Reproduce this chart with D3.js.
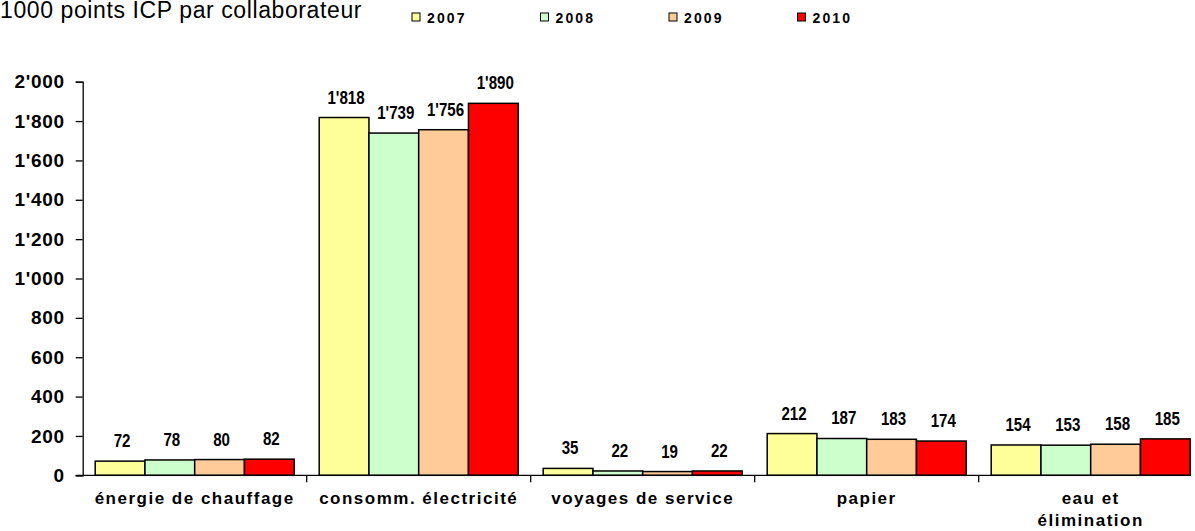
<!DOCTYPE html>
<meta charset="utf-8">
<html>
<head>
<style>
  body { margin: 0; background: #fff; }
  text { font-family: "Liberation Sans", Arial, sans-serif; }
  .narrow { font-family: "Liberation Sans Narrow", "Arial Narrow", "Liberation Sans", sans-serif; font-weight: bold; }
</style>
</head>
<body>
<div id="chart"></div>
<script src="https://d3js.org/d3.v7.min.js"></script>
<script>

  // data
  var categories = ["énergie de chauffage", "consomm. électricité", "voyages de service", "papier", "eau et\nélimination"];
  var years = ["2007", "2008", "2009", "2010"];
  var values2007 = [72, 1818, 35, 212, 154];
  var values2008 = [78, 1739, 22, 187, 153];
  var values2009 = [80, 1756, 19, 183, 158];
  var values2010 = [82, 1890, 22, 174, 185];
  var yTicks = [0, 200, 400, 600, 800, 1000, 1200, 1400, 1600, 1800, 2000];
  var colors = ["#FFFF99", "#CCFFCC", "#FFCC99", "#FF0000"];

  var series = [values2007, values2008, values2009, values2010];

  var width = 1195, height = 531;
  var plotLeft = 82.7, plotRight = 1202.7, plotTop = 81.7, plotBottom = 475.3;

  var svg = d3.select("#chart")
    .append("svg")
      .attr("width", width)
      .attr("height", height);

  var fmt = d3.formatLocale({decimal: ".", thousands: "'", grouping: [3], currency: ["", ""]}).format(",d");

  // scales
  var x0 = d3.scaleBand()
    .domain(categories)
    .range([plotLeft, plotRight]);

  var x1 = d3.scaleBand()
    .domain(years)
    .range([12.5, x0.bandwidth() - 12.5]);

  var y = d3.scaleLinear()
    .domain([0, 2000])
    .range([plotBottom, plotTop]);

  // title
  svg.append("text")
    .attr("x", 0)
    .attr("y", 17.5)
    .style("font-size", "23px")
    .style("letter-spacing", "0.6px")
    .text("1000 points ICP par collaborateur");

  // legend
  var legend = svg.append("g").selectAll("g")
    .data(years)
    .enter().append("g")
      .attr("transform", function(d, i) { return "translate(" + (412 + i * 128.5) + ",13)"; });

  legend.append("rect")
    .attr("width", 8)
    .attr("height", 8)
    .attr("fill", function(d, i) { return colors[i]; })
    .attr("stroke", "#000")
    .attr("stroke-width", 1);

  legend.append("text")
    .attr("x", 15)
    .attr("y", 9.7)
    .style("font-size", "14px")
    .style("font-weight", "bold")
    .style("letter-spacing", "2.1px")
    .text(function(d) { return d; });

  // bars
  var groups = svg.append("g").selectAll("g")
    .data(categories)
    .enter().append("g")
      .attr("transform", function(d) { return "translate(" + x0(d) + ",0)"; });

  groups.selectAll("rect")
    .data(function(d, ci) { return years.map(function(yr, si) { return {year: yr, value: series[si][ci], i: si}; }); })
    .enter().append("rect")
      .attr("x", function(d) { return x1(d.year); })
      .attr("y", function(d) { return y(d.value); })
      .attr("width", x1.bandwidth())
      .attr("height", function(d) { return y(0) - y(d.value); })
      .attr("fill", function(d) { return colors[d.i]; })
      .attr("stroke", "#000")
      .attr("stroke-width", 1.5);

  // value labels, squeezed horizontally to look like a narrow face
  groups.selectAll("text.val")
    .data(function(d, ci) { return years.map(function(yr, si) { return {year: yr, value: series[si][ci]}; }); })
    .enter().append("text")
      .attr("class", "val narrow")
      .attr("transform", function(d) {
        return "translate(" + (x1(d.year) + x1.bandwidth() / 2 + 2) + "," + (y(d.value) - 14) + ") scale(0.84,1)";
      })
      .attr("text-anchor", "middle")
      .style("font-size", "18px")
      .text(function(d) { return fmt(d.value); });

  // y axis
  var yAxis = svg.append("g")
    .attr("transform", "translate(" + plotLeft + ",0)")
    .call(d3.axisLeft(y).tickValues(yTicks).tickSize(7).tickPadding(11).tickFormat(fmt));
  yAxis.select(".domain").attr("stroke", "#000").attr("stroke-width", 1.3);
  yAxis.selectAll(".tick line").attr("stroke", "#000").attr("stroke-width", 1.3);
  yAxis.selectAll(".tick text")
    .attr("fill", "#000")
    .style("font-family", "\"Liberation Sans\", Arial, sans-serif")
    .style("font-size", "19px")
    .style("letter-spacing", "0.7px")
    .style("font-weight", "bold");

  // x axis
  var xAxis = svg.append("g")
    .attr("transform", "translate(0," + plotBottom + ")");
  xAxis.append("line")
    .attr("x1", plotLeft - 7).attr("x2", 1189)
    .attr("stroke", "#000").attr("stroke-width", 1.3);
  xAxis.selectAll("line.sep")
    .data(categories.slice(1))
    .enter().append("line")
      .attr("class", "sep")
      .attr("x1", function(d) { return x0(d); })
      .attr("x2", function(d) { return x0(d); })
      .attr("y1", 0).attr("y2", 7)
      .attr("stroke", "#000").attr("stroke-width", 1.3);

  var catLabels = xAxis.selectAll("text.cat")
    .data(categories)
    .enter().append("text")
      .attr("class", "cat")
      .attr("x", function(d) { return x0(d) + x0.bandwidth() / 2; })
      .attr("y", 29)
      .attr("text-anchor", "middle")
      .style("font-size", "17px")
      .style("font-weight", "bold")
      .style("letter-spacing", "1.5px");

  catLabels.selectAll("tspan")
    .data(function(d) { return d.split("\n"); })
    .enter().append("tspan")
      .attr("x", function() { var p = this.parentNode.__data__; return x0(p) + x0.bandwidth() / 2; })
      .attr("dy", function(d, i) { return i === 0 ? 0 : 21.5; })
      .text(function(d) { return d; });

</script>
</body>
</html>
